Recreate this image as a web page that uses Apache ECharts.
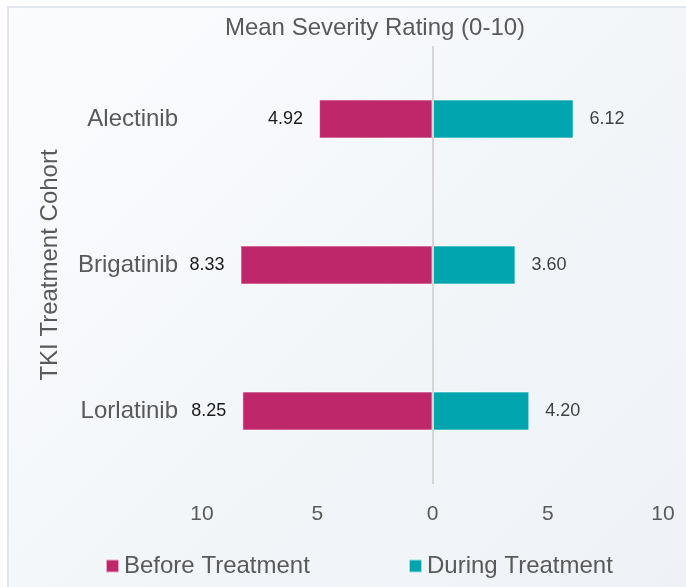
<!DOCTYPE html>
<html>
<head>
<meta charset="utf-8">
<script src="https://cdn.jsdelivr.net/npm/echarts@6/dist/echarts.min.js"></script>
<style>
  html, body { margin: 0; padding: 0; background: #ffffff; }
  #frame {
    position: absolute; left: 7px; top: 6px; width: 679px; height: 581px;
    border-left: 2px solid #e2e6f0; border-top: 2px solid #e2e6f0;
    box-sizing: border-box;
    background: linear-gradient(135deg, #fbfcfe 0%, #f3f6f9 55%, #eef2f6 100%);
  }
  #chart { position: absolute; left: 0; top: 0; width: 686px; height: 587px; }
</style>
</head>
<body>
<div id="frame"></div>
<div id="chart"></div>
<script>
// Treatment cohorts (top to bottom)
const cohorts = ['Alectinib', 'Brigatinib', 'Lorlatinib'];
// Mean severity ratings, 0-10 scale
const beforeTreatment = [4.92, 8.33, 8.25];
const duringTreatment = [6.12, 3.60, 4.20];
const seriesNames = ['Before Treatment', 'During Treatment'];

const FONT = '"Liberation Sans", Arial, sans-serif';
const GREY = '#595959';

const chart = echarts.init(document.getElementById('chart'), null, { renderer: 'canvas' });

chart.setOption({
  backgroundColor: 'transparent',
  animation: false,
  textStyle: { fontFamily: FONT },
  title: {
    text: 'Mean Severity Rating (0-10)',
    left: 370,
    textAlign: 'center',
    top: 11,
    textStyle: { fontFamily: FONT, fontSize: 24, fontWeight: 'normal', color: GREY }
  },
  grid: { left: 202, right: 23, top: 46, bottom: 103, containLabel: false },
  legend: [
    {
      data: [seriesNames[0]], left: 105, top: 554, padding: 0,
      icon: 'rect', itemWidth: 13, itemHeight: 13, itemGap: 5,
      textStyle: { fontFamily: FONT, fontSize: 24, color: GREY }
    },
    {
      data: [seriesNames[1]], left: 408, top: 554, padding: 0,
      icon: 'rect', itemWidth: 13, itemHeight: 13, itemGap: 5,
      textStyle: { fontFamily: FONT, fontSize: 24, color: GREY }
    }
  ],
  xAxis: {
    type: 'value',
    min: -10, max: 10, interval: 5,
    axisLine: { show: false },
    axisTick: { show: false },
    splitLine: { show: false },
    axisLabel: {
      margin: 20,
      fontFamily: FONT, fontSize: 21, color: GREY,
      formatter: v => String(Math.abs(v))
    }
  },
  yAxis: {
    type: 'category',
    data: cohorts,
    inverse: true,
    axisLine: { show: false },
    axisTick: { show: false },
    axisLabel: { margin: 24, fontFamily: FONT, fontSize: 24, color: GREY },
    name: 'TKI Treatment Cohort',
    nameLocation: 'middle',
    nameGap: 140,
    nameTextStyle: { fontFamily: FONT, fontSize: 24, color: GREY }
  },
  series: [
    {
      name: seriesNames[0],
      type: 'bar',
      stack: 'cohort',
      barWidth: 39,
      data: beforeTreatment.map(v => -v),
      itemStyle: { color: '#BE2769', borderColor: 'rgba(255,255,255,0.6)', borderWidth: 1 },
      label: {
        show: true, position: 'left', distance: 16,
        fontFamily: FONT, fontSize: 18, color: '#1a1a1a',
        formatter: p => Math.abs(p.value).toFixed(2)
      }
    },
    {
      name: seriesNames[1],
      type: 'bar',
      stack: 'cohort',
      barWidth: 39,
      data: duringTreatment,
      itemStyle: { color: '#00A5B0', borderColor: 'rgba(255,255,255,0.6)', borderWidth: 1 },
      label: {
        show: true, position: 'right', distance: 16,
        fontFamily: FONT, fontSize: 18, color: '#404040',
        formatter: p => p.value.toFixed(2)
      },
      markLine: {
        silent: true,
        symbol: ['none', 'none'],
        label: { show: false },
        lineStyle: { color: '#d6d6d6', width: 2, type: 'solid' },
        data: [{ xAxis: 0 }]
      }
    }
  ]
});
</script>
</body>
</html>
